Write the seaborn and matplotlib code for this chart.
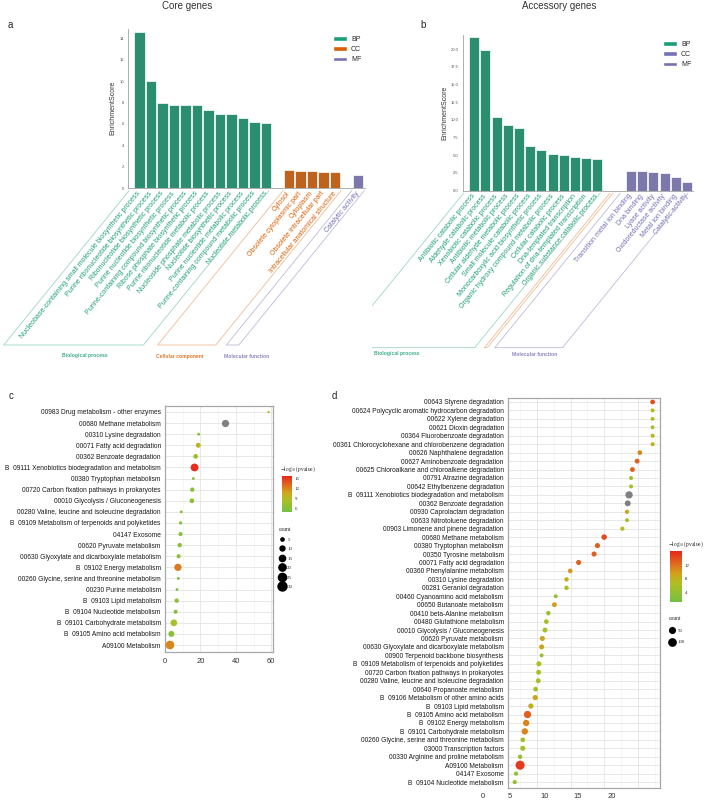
import numpy as np
import pandas as pd
import matplotlib
matplotlib.use("Agg")
import matplotlib.pyplot as plt
import matplotlib.colorbar as mcolorbar
import seaborn as sns
from matplotlib.colors import LinearSegmentedColormap, Normalize
from matplotlib.lines import Line2D
from matplotlib.patches import Patch, Rectangle
from matplotlib.transforms import blended_transform_factory

W, H = 709, 800

# ---------------- data: GO enrichment, core genes (a) ----------------
a_bp_terms = ["Nucleobase-containing small molecule biosynthetic process",
              "Purine ribonucleotide biosynthetic process",
              "Ribonucleotide biosynthetic process",
              "Purine nucleotide biosynthetic process",
              "Purine-containing compound biosynthetic process",
              "Ribose phosphate biosynthetic process",
              "Purine ribonucleotide metabolic process",
              "Nucleoside phosphate metabolic process",
              "Nucleotide biosynthetic process",
              "Purine nucleotide metabolic process",
              "Purine-containing compound metabolic process",
              "Nucleotide metabolic process"]
a_bp_scores = [14.6, 10.0, 7.95, 7.75, 7.75, 7.75, 7.3, 6.9, 6.9, 6.55, 6.2, 6.05]
a_cc_terms = ["Cytosol", "Obsolete cytoplasmic part", "Cytoplasm",
              "Obsolete intracellular part", "Intracellular anatomical structure"]
a_cc_scores = [1.65, 1.6, 1.6, 1.52, 1.5]
a_mf_terms = ["Catalytic activity"]
a_mf_scores = [1.25]

# ---------------- data: GO enrichment, accessory genes (b) ----------------
b_bp_terms = ["Antibiotic catabolic process", "Aldehyde catabolic process",
              "Xenobiotic catabolic process", "Antibiotic metabolic process",
              "Cellular aldehyde metabolic process", "Small molecule catabolic process",
              "Monocarboxylic acid biosynthetic process",
              "Organic hydroxy compound metabolic process",
              "Cellular catabolic process", "Dna-templated transcription",
              "Regulation of dna-templated transcription",
              "Organic substance catabolic process"]
b_bp_scores = [21.7, 19.9, 10.4, 9.3, 8.8, 6.3, 5.75, 5.2, 5.0, 4.7, 4.55, 4.5]
b_mf_terms = ["Transition metal ion binding", "Dna binding", "Lyase activity",
              "Oxidoreductase activity", "Metal ion binding", "Catalytic activity"]
b_mf_scores = [2.8, 2.8, 2.6, 2.45, 2.0, 1.2]

# ---------------- data: KEGG dot plot, core genes (c) ----------------
c_terms = ["00983 Drug metabolism - other enzymes", "00680 Methane metabolism",
           "00310 Lysine degradation", "00071 Fatty acid degradation",
           "00362 Benzoate degradation", "B  09111 Xenobiotics biodegradation and metabolism",
           "00380 Tryptophan metabolism", "00720 Carbon fixation pathways in prokaryotes",
           "00010 Glycolysis / Gluconeogenesis",
           "00280 Valine, leucine and isoleucine degradation",
           "B  09109 Metabolism of terpenoids and polyketides", "04147 Exosome",
           "00620 Pyruvate metabolism", "00630 Glyoxylate and dicarboxylate metabolism",
           "B  09102 Energy metabolism", "00260 Glycine, serine and threonine metabolism",
           "00230 Purine metabolism", "B  09103 Lipid metabolism",
           "B  09104 Nucleotide metabolism", "B  09101 Carbohydrate metabolism",
           "B  09105 Amino acid metabolism", "A09100 Metabolism"]
c_x = [58.5, 33.8, 19.0, 18.8, 17.3, 16.7, 16.0, 15.4, 15.2, 9.2, 8.8,
       8.8, 8.3, 7.7, 7.3, 7.5, 6.8, 6.6, 6.0, 5.0, 3.6, 2.8]
c_logp = [8.5, np.nan, 6.0, 9.5, 7.5, 15.5, 6.0, 6.5, 6.5, 6.0, 6.0,
          6.0, 6.5, 6.5, 12.5, 5.5, 5.5, 6.5, 6.0, 8.5, 6.5, 12.0]
c_count = [3, 20, 4, 10, 9, 23, 4, 8, 9, 4, 5, 7, 8, 7, 20, 4, 4, 8, 7, 17, 14, 28]

# ---------------- data: KEGG dot plot, accessory genes (d) ----------------
d_terms = ["00643 Styrene degradation",
           "00624 Polycyclic aromatic hydrocarbon degradation",
           "00622 Xylene degradation", "00621 Dioxin degradation",
           "00364 Fluorobenzoate degradation",
           "00361 Chlorocyclohexane and chlorobenzene degradation",
           "00626 Naphthalene degradation", "00627 Aminobenzoate degradation",
           "00625 Chloroalkane and chloroalkene degradation",
           "00791 Atrazine degradation", "00642 Ethylbenzene degradation",
           "B  09111 Xenobiotics biodegradation and metabolism",
           "00362 Benzoate degradation", "00930 Caprolactam degradation",
           "00633 Nitrotoluene degradation", "00903 Limonene and pinene degradation",
           "00680 Methane metabolism", "00380 Tryptophan metabolism",
           "00350 Tyrosine metabolism", "00071 Fatty acid degradation",
           "00360 Phenylalanine metabolism", "00310 Lysine degradation",
           "00281 Geraniol degradation", "00460 Cyanoamino acid metabolism",
           "00650 Butanoate metabolism", "00410 beta-Alanine metabolism",
           "00480 Glutathione metabolism", "00010 Glycolysis / Gluconeogenesis",
           "00620 Pyruvate metabolism", "00630 Glyoxylate and dicarboxylate metabolism",
           "00900 Terpenoid backbone biosynthesis",
           "B  09109 Metabolism of terpenoids and polyketides",
           "00720 Carbon fixation pathways in prokaryotes",
           "00280 Valine, leucine and isoleucine degradation",
           "00640 Propanoate metabolism", "B  09106 Metabolism of other amino acids",
           "B  09103 Lipid metabolism", "B  09105 Amino acid metabolism",
           "B  09102 Energy metabolism", "B  09101 Carbohydrate metabolism",
           "00260 Glycine, serine and threonine metabolism",
           "03000 Transcription factors", "00330 Arginine and proline metabolism",
           "A09100 Metabolism", "04147 Exosome", "B  09104 Nucleotide metabolism"]
d_x = [22.2, 22.2, 22.2, 22.2, 22.2, 22.2, 20.3, 19.9, 19.2, 19.0, 19.0,
       18.7, 18.5, 18.4, 18.4, 17.7, 15.0, 14.0, 13.5, 11.2, 9.95, 9.4,
       9.4, 7.8, 7.6, 6.7, 6.4, 6.2, 5.8, 5.7, 5.7, 5.3, 5.25, 5.2,
       4.8, 4.75, 4.1, 3.6, 3.4, 3.2, 2.9, 2.9, 2.5, 2.5, 1.9, 1.7]
d_logp = [14, 7, 7, 5.5, 8, 8, 11, 13, 13, 5.5, 5.5,
          np.nan, np.nan, 9.5, 5, 7.5, 14, 13, 13, 13, 10, 8,
          6.5, 4, 9.5, 4.5, 5.5, 6, 9, 9, 4, 6.5, 6, 6,
          5.5, 9, 8, 13, 11, 11, 5.5, 6, 4.5, 15, 4, 4]
d_count = [25, 10, 10, 8, 12, 12, 25, 30, 28, 10, 10,
           100, 55, 15, 8, 15, 45, 35, 35, 35, 25, 20,
           20, 8, 30, 20, 25, 30, 35, 35, 8, 35, 30, 30,
           25, 40, 40, 100, 70, 70, 25, 35, 20, 170, 15, 15]

# ---------------- style ----------------
GO_COLORS = {"BP": "#1B9E77", "CC": "#D95F02", "MF": "#7570B3"}
GO_LIGHT = {"BP": "#9FD5C2", "CC": "#EFBB96", "MF": "#BDBBDC"}
GRAD = LinearSegmentedColormap.from_list(
    "pv", [(0, "#74C043"), (0.35, "#AEBF22"), (0.55, "#D1A31C"),
           (0.75, "#E06A1E"), (1.0, "#E8271C")])
NA_GRAY = "#808080"

sns.set_style("white")
plt.rcParams["font.family"] = ["Liberation Sans", "DejaVu Sans"]
plt.rcParams["mathtext.fontset"] = "stix"

fig = plt.figure(figsize=(W / 100, H / 100), dpi=100)


def px_rect(left, top, width, height):
    return [left / W, 1 - (top + height) / H, width / W, height / H]


def go_panel(ax, groups, order, ylim, yticks, ytick_labels, spans, clip_left=None):
    rows = []
    for cat, (terms, scores) in groups.items():
        for t, s in zip(terms, scores):
            rows.append((t, s, cat))
    df = pd.DataFrame(rows, columns=["term", "score", "cat"])
    sns.barplot(data=df, x="term", y="score", hue="cat", order=order,
                hue_order=["BP", "CC", "MF"], palette=GO_COLORS, dodge=False,
                width=0.88, edgecolor="white", linewidth=0.5, legend=False, ax=ax)
    ax.set_ylim(*ylim)
    ax.set_yticks(yticks)
    ax.set_yticklabels(ytick_labels, fontsize=3, color="#555555")
    ax.set_ylabel("EnrichmentScore", fontsize=5, labelpad=2, color="#333333")
    ax.set_xlabel("")
    pos = [i for i, t in enumerate(order) if t.strip()]
    ax.set_xticks(pos)
    ax.set_xticklabels([order[i] for i in pos], rotation=51, ha="right",
                       va="center", rotation_mode="anchor", fontsize=5)
    cat_of = dict(zip(df["term"], df["cat"]))
    for lab in ax.get_xticklabels():
        lab.set_color(GO_COLORS[cat_of[lab.get_text()]])
    for side in ["top", "right"]:
        ax.spines[side].set_visible(False)
    for side in ["left", "bottom"]:
        ax.spines[side].set_color("#A0A0A0")
        ax.spines[side].set_linewidth(0.6)
    ax.tick_params(axis="both", length=1.5, width=0.4, color="#A0A0A0", pad=1.5)

    # parallelogram brackets under each GO category
    inv = fig.transFigure.inverted()
    dx, dy = 125.5 / W, 154.5 / H
    for cat, (x0, x1) in spans.items():
        tl = inv.transform(ax.transData.transform((x0, 0)))
        tr = inv.transform(ax.transData.transform((x1, 0)))
        ty = tl[1] - 2.5 / H
        line = Line2D([tl[0], tl[0] - dx, tr[0] - dx, tr[0]],
                      [ty, ty - dy, ty - dy, ty],
                      transform=fig.transFigure, color=GO_LIGHT[cat], lw=0.6)
        if clip_left is not None:
            line.set_clip_path(Rectangle((clip_left / W, 0), 1, 1,
                                         transform=fig.transFigure))
        fig.add_artist(line)


# ---------------- panel a ----------------
ax_a = fig.add_axes(px_rect(128, 28.6, 236.9, 159.4))
order_a = a_bp_terms + [" "] + a_cc_terms + ["  "] + a_mf_terms
go_panel(ax_a, {"BP": (a_bp_terms, a_bp_scores), "CC": (a_cc_terms, a_cc_scores),
                "MF": (a_mf_terms, a_mf_scores)},
         order_a, (0, 14.9), range(0, 15, 2), [str(v) for v in range(0, 15, 2)],
         {"BP": (-0.4, 11.4), "CC": (12.6, 17.5), "MF": (18.4, 19.45)})
ax_a.set_xlim(-1.0, 19.6)
ax_a.legend([Patch(fc=GO_COLORS[k]) for k in ["BP", "CC", "MF"]], ["BP", "CC", "MF"],
            loc="upper left", bbox_to_anchor=(333 / W, 1 - 36 / H),
            bbox_transform=fig.transFigure, frameon=False, fontsize=5,
            handlelength=2.0, handleheight=0.6, labelspacing=0.45,
            handletextpad=0.6, borderpad=0, borderaxespad=0)

# ---------------- panel b ----------------
ax_b = fig.add_axes(px_rect(463, 34.9, 229.6, 155.8))
order_b = b_bp_terms + [" ", "  "] + b_mf_terms
go_panel(ax_b, {"BP": (b_bp_terms, b_bp_scores), "CC": ([], []),
                "MF": (b_mf_terms, b_mf_scores)},
         order_b, (0, 22), np.arange(0, 20.1, 2.5),
         ["%.1f" % v for v in np.arange(0, 20.1, 2.5)],
         {"BP": (-0.45, 11.45), "CC": (12.3, 12.55), "MF": (13.2, 19.1)},
         clip_left=372)
ax_b.set_xlim(-1.0, 19.5)
ax_b.legend([Patch(fc=GO_COLORS[k]) for k in ["BP", "MF", "MF"]], ["BP", "CC", "MF"],
            loc="upper left", bbox_to_anchor=(663 / W, 1 - 41 / H),
            bbox_transform=fig.transFigure, frameon=False, fontsize=5,
            handlelength=2.0, handleheight=0.6, labelspacing=0.45,
            handletextpad=0.6, borderpad=0, borderaxespad=0)

# titles, panel letters, bracket captions
fig.text(187 / W, 1 - 6 / H, "Core genes", ha="center", va="center", fontsize=7, color="#333333")
fig.text(559 / W, 1 - 6 / H, "Accessory genes", ha="center", va="center", fontsize=7, color="#333333")
for letter, (lx, ly) in {"a": (10, 25), "b": (423, 25), "c": (11, 396), "d": (334, 396)}.items():
    fig.text(lx / W, 1 - ly / H, letter, ha="center", va="center", fontsize=7, color="#222222")
for txt, cat, (gx, gy) in [("Biological process", "BP", (85, 355)),
                           ("Cellular component", "CC", (180, 356)),
                           ("Molecular function", "MF", (247, 356)),
                           ("Biological process", "BP", (397, 354)),
                           ("Molecular function", "MF", (535, 355))]:
    fig.text(gx / W, 1 - gy / H, txt, ha="center", va="center", fontsize=3.6,
             fontweight="bold", color=GO_COLORS[cat], alpha=0.85)


# ---------------- dot panels ----------------
def dot_panel(ax, terms, xs, logp, counts, sizes, size_norm, hue_norm, label_size):
    df = pd.DataFrame({"term": terms, "x": xs, "logp": logp, "count": counts})
    df["row"] = np.arange(len(df))
    ok = df[df["logp"].notna()]
    na = df[df["logp"].isna()]
    sns.scatterplot(data=ok, x="x", y="row", hue="logp", size="count", palette=GRAD,
                    hue_norm=hue_norm, sizes=sizes, size_norm=size_norm,
                    linewidth=0, legend=False, ax=ax, zorder=3)
    sns.scatterplot(data=na, x="x", y="row", size="count", color=NA_GRAY,
                    sizes=sizes, size_norm=size_norm, linewidth=0, legend=False,
                    ax=ax, zorder=3)
    ax.set_yticks(df["row"])
    ax.set_yticklabels(df["term"], fontsize=label_size, color="#1A1A1A")
    ax.set_xlabel("")
    ax.set_ylabel("")
    for sp in ax.spines.values():
        sp.set_visible(True)
        sp.set_color("#A8A8A8")
        sp.set_linewidth(0.9)
    ax.set_axisbelow(True)
    ax.grid(True, which="major", color="#E4E4E4", lw=0.6)
    ax.grid(True, which="minor", color="#F0F0F0", lw=0.4)
    ax.tick_params(axis="y", length=2, width=0.5, color="#333333", pad=1)
    ax.tick_params(axis="x", which="major", length=2, width=0.5, color="#333333",
                   labelsize=5.5, labelcolor="#333333", pad=2)
    ax.tick_params(axis="x", which="minor", length=0)


def size_of(v, sizes, size_norm):
    return sizes[0] + (v - size_norm[0]) / (size_norm[1] - size_norm[0]) * (sizes[1] - sizes[0])


def add_keys(cbar_rect, title_xy, hue_norm, cticks, cnt_values, sizes, size_norm,
             cnt_anchor, cnt_spacing):
    cax = fig.add_axes(cbar_rect)
    cb = mcolorbar.ColorbarBase(cax, cmap=GRAD, norm=Normalize(*hue_norm))
    cb.outline.set_visible(False)
    cb.set_ticks(cticks)
    cax.tick_params(length=0, labelsize=3.5, pad=2)
    for lab in cax.get_yticklabels():
        lab.set_family("Liberation Serif")
    fig.text(title_xy[0] / W, 1 - title_xy[1] / H, r"$-\log_{10}$(pvalue)",
             fontsize=4, family="Liberation Serif", va="center", ha="left")
    handles = [Line2D([], [], ls="", marker="o", color="black",
                      markersize=np.sqrt(size_of(v, sizes, size_norm))) for v in cnt_values]
    leg = fig.legend(handles, [str(v) for v in cnt_values], title="count",
                     loc="upper left", bbox_to_anchor=(cnt_anchor[0] / W, 1 - cnt_anchor[1] / H),
                     frameon=False, prop={"family": "Liberation Serif", "size": 3.5},
                     title_fontproperties={"family": "Liberation Serif", "size": 4},
                     handlelength=1.2, handletextpad=0.5, labelspacing=cnt_spacing,
                     borderpad=0, borderaxespad=0)
    leg._legend_box.align = "left"


# panel c
c_sizes, c_size_norm, c_hue_norm = (1.2, 42), (2, 30), (5.1, 15.8)
ax_c = fig.add_axes(px_rect(165, 406, 108, 246))
dot_panel(ax_c, c_terms, c_x, c_logp, c_count, c_sizes, c_size_norm, c_hue_norm, 4.8)
ax_c.set_xlim(0, 61)
ax_c.set_ylim(len(c_terms) - 1 + 0.63, -0.54)
ax_c.set_xticks([0, 20, 40, 60])
ax_c.set_xticks([10, 30, 50], minor=True)
add_keys(px_rect(282, 476, 10, 36), (280, 469), c_hue_norm, [6, 9, 12, 15],
         [5, 10, 15, 20, 25, 30], c_sizes, c_size_norm, (279, 527), 1.05)

# panel d
d_sizes, d_size_norm, d_hue_norm = (6, 49.2), (0, 200), (1.25, 16.1)
ax_d = fig.add_axes(px_rect(508, 398, 152, 390))
dot_panel(ax_d, d_terms, d_x, d_logp, d_count, d_sizes, d_size_norm, d_hue_norm, 4.8)
ax_d.set_xlim(0.7, 23.3)
ax_d.set_ylim(len(d_terms) - 1 + 0.7, -0.47)
ax_d.set_xticks([5, 10, 15, 20])
ax_d.set_xticklabels([])
ax_d.set_xticks([2.5, 7.5, 12.5, 17.5, 22.5], minor=True)
# the original's x labels sit shifted left of their gridlines
d_xlabels = ["0", "5", "10", "15", "20"]
d_xlabel_pos = [-3.0, 1.0, 6.2, 11.1, 16.2]
tr = blended_transform_factory(ax_d.transData, ax_d.transAxes)
for lab, p in zip(d_xlabels, d_xlabel_pos):
    ax_d.text(p, -0.012, lab, transform=tr, ha="center", va="top",
              fontsize=5.5, color="#333333")
add_keys(px_rect(670, 551, 12, 51), (668, 544), d_hue_norm, [4, 8, 12],
         [50, 100], d_sizes, d_size_norm, (669, 616), 1.5)

fig.savefig("out.png", dpi=100, facecolor="white")
